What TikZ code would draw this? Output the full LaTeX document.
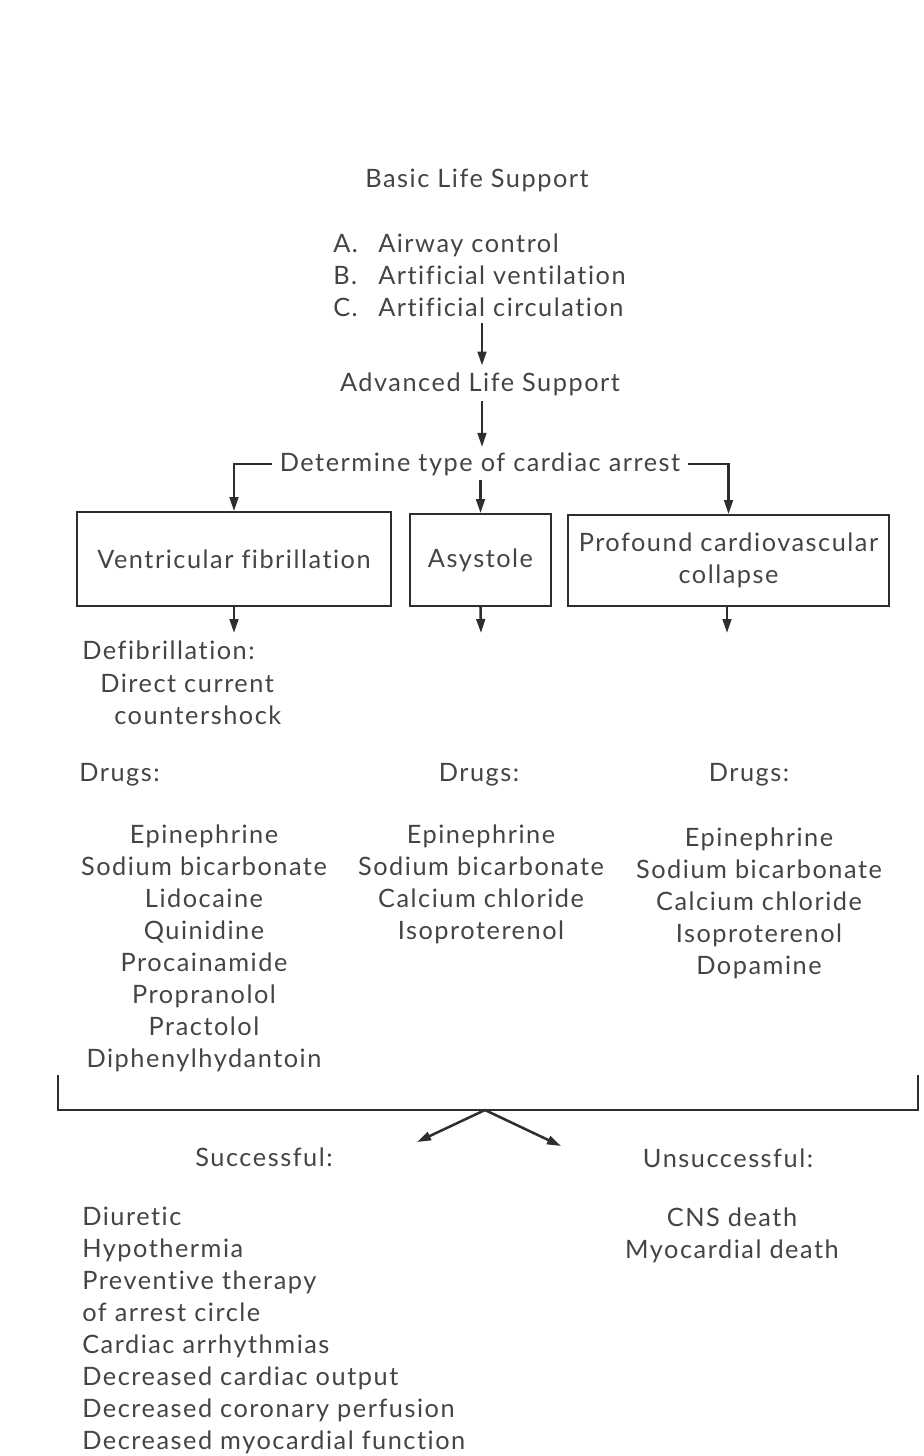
\documentclass[tikz,border=0pt]{standalone}
\usepackage{fontspec}
\setmainfont[Ligatures={NoCommon}, LetterSpace=6]{Lato}
\usetikzlibrary{arrows.meta}
\definecolor{ink}{HTML}{444444}
\definecolor{lineink}{HTML}{2E2E2E}
\newcommand{\lbl}[1]{\makebox[33.75pt][l]{#1}}
\begin{document}
\begin{tikzpicture}[x=0.75pt,y=-0.75pt,
  txt/.style={inner sep=0pt, text=ink, font=\fontsize{19}{24}\selectfont},
  box/.style={draw=lineink, line width=1.3pt, inner sep=0pt, text=ink, align=center, font=\fontsize{19}{24}\selectfont},
  arr/.style={draw=lineink, line width=1.9pt, -{Triangle[length=10.5pt,width=6.5pt]}},
  ln/.style={draw=lineink, line width=1.9pt}]
\useasboundingbox (0,0) rectangle (924,1456);
\coordinate (cx) at (482,0);
% top
\node[txt] (bls) at (477,180) {Basic Life Support};
\node[txt, anchor=west, align=left] (abc) at (333,275) {\lbl{A.}Airway control\\\lbl{B.}Artificial ventilation\\\lbl{C.}Artificial circulation};
\node[txt] (als) at (480,384) {Advanced Life Support};
\node[txt, inner xsep=6pt] (det) at (480,464) {Determine type of cardiac arrest};
% boxes
\node[box, minimum width=314*0.75pt, minimum height=94*0.75pt] (vf) at (234,559) {Ventricular fibrillation};
\node[box, minimum width=141*0.75pt, minimum height=92*0.75pt] (asy) at (480.5,560) {Asystole};
\node[box, minimum width=321*0.75pt, minimum height=91*0.75pt] (pcc) at (728.5,560.5) {Profound cardiovascular\\collapse};
% connectors top
\draw[arr, shorten <=5pt, shorten >=5pt] (abc.south -| cx) -- (als.north -| cx);
\draw[arr, shorten <=4pt, shorten >=4pt] (als.south -| cx) -- (det.north -| cx);
\draw[arr] (det.west) -| (vf.north);
\draw[arr] (det.east) -| (pcc.north);
\draw[arr, shorten <=3pt] (det.south -| asy.north) -- (asy.north);
% below boxes
\coordinate (e1) at (234,633);
\coordinate (e2) at (481,633);
\coordinate (e3) at (727,633);
\draw[arr] (vf.south) -- (e1);
\draw[arr] (asy.south) -- (e2);
\draw[arr] (pcc.south -| e3) -- (e3);
% defibrillation
\node[txt, anchor=west, align=left] (defib) at (82,683) {Defibrillation:\\[0.8pt]\hspace*{13.5pt}Direct current\\\hspace*{24pt}countershock};
% drugs
\node[txt, anchor=west] (d1) at (79,775) {Drugs:};
\node[txt] (d2) at (479,775) {Drugs:};
\node[txt] (d3) at (749,775) {Drugs:};
\node[txt, align=center] (l1) at (204,948) {Epinephrine\\Sodium bicarbonate\\Lidocaine\\Quinidine\\Procainamide\\Propranolol\\Practolol\\Diphenylhydantoin};
\node[txt, align=center] (l2) at (481,884) {Epinephrine\\Sodium bicarbonate\\Calcium chloride\\Isoproterenol};
\node[txt, align=center] (l3) at (759,903) {Epinephrine\\Sodium bicarbonate\\Calcium chloride\\Isoproterenol\\Dopamine};
% bracket
\coordinate (bl) at (58,1075);
\coordinate (blc) at (58,1110);
\coordinate (brc) at (918,1110);
\coordinate (br) at (918,1075);
\coordinate (bm) at (485,1110);
\coordinate (sa) at (417,1142);
\coordinate (ua) at (561,1146);
\draw[ln] (bl) -- (blc) -- (brc) -- (br);
\draw[arr] (bm) -- (sa);
\draw[arr] (bm) -- (ua);
% outcomes
\node[txt] (succ) at (264,1157) {Successful:};
\node[txt] (unsucc) at (728,1158) {Unsuccessful:};
\node[txt, anchor=west, align=left] (sl) at (82,1330.5) {Diuretic\\Hypothermia\\Preventive therapy\\of arrest circle\\Cardiac arrhythmias\\Decreased cardiac output\\Decreased coronary perfusion\\Decreased myocardial function};
\node[txt, align=center] (ul) at (732,1235) {CNS death\\Myocardial death};
\end{tikzpicture}
\end{document}
